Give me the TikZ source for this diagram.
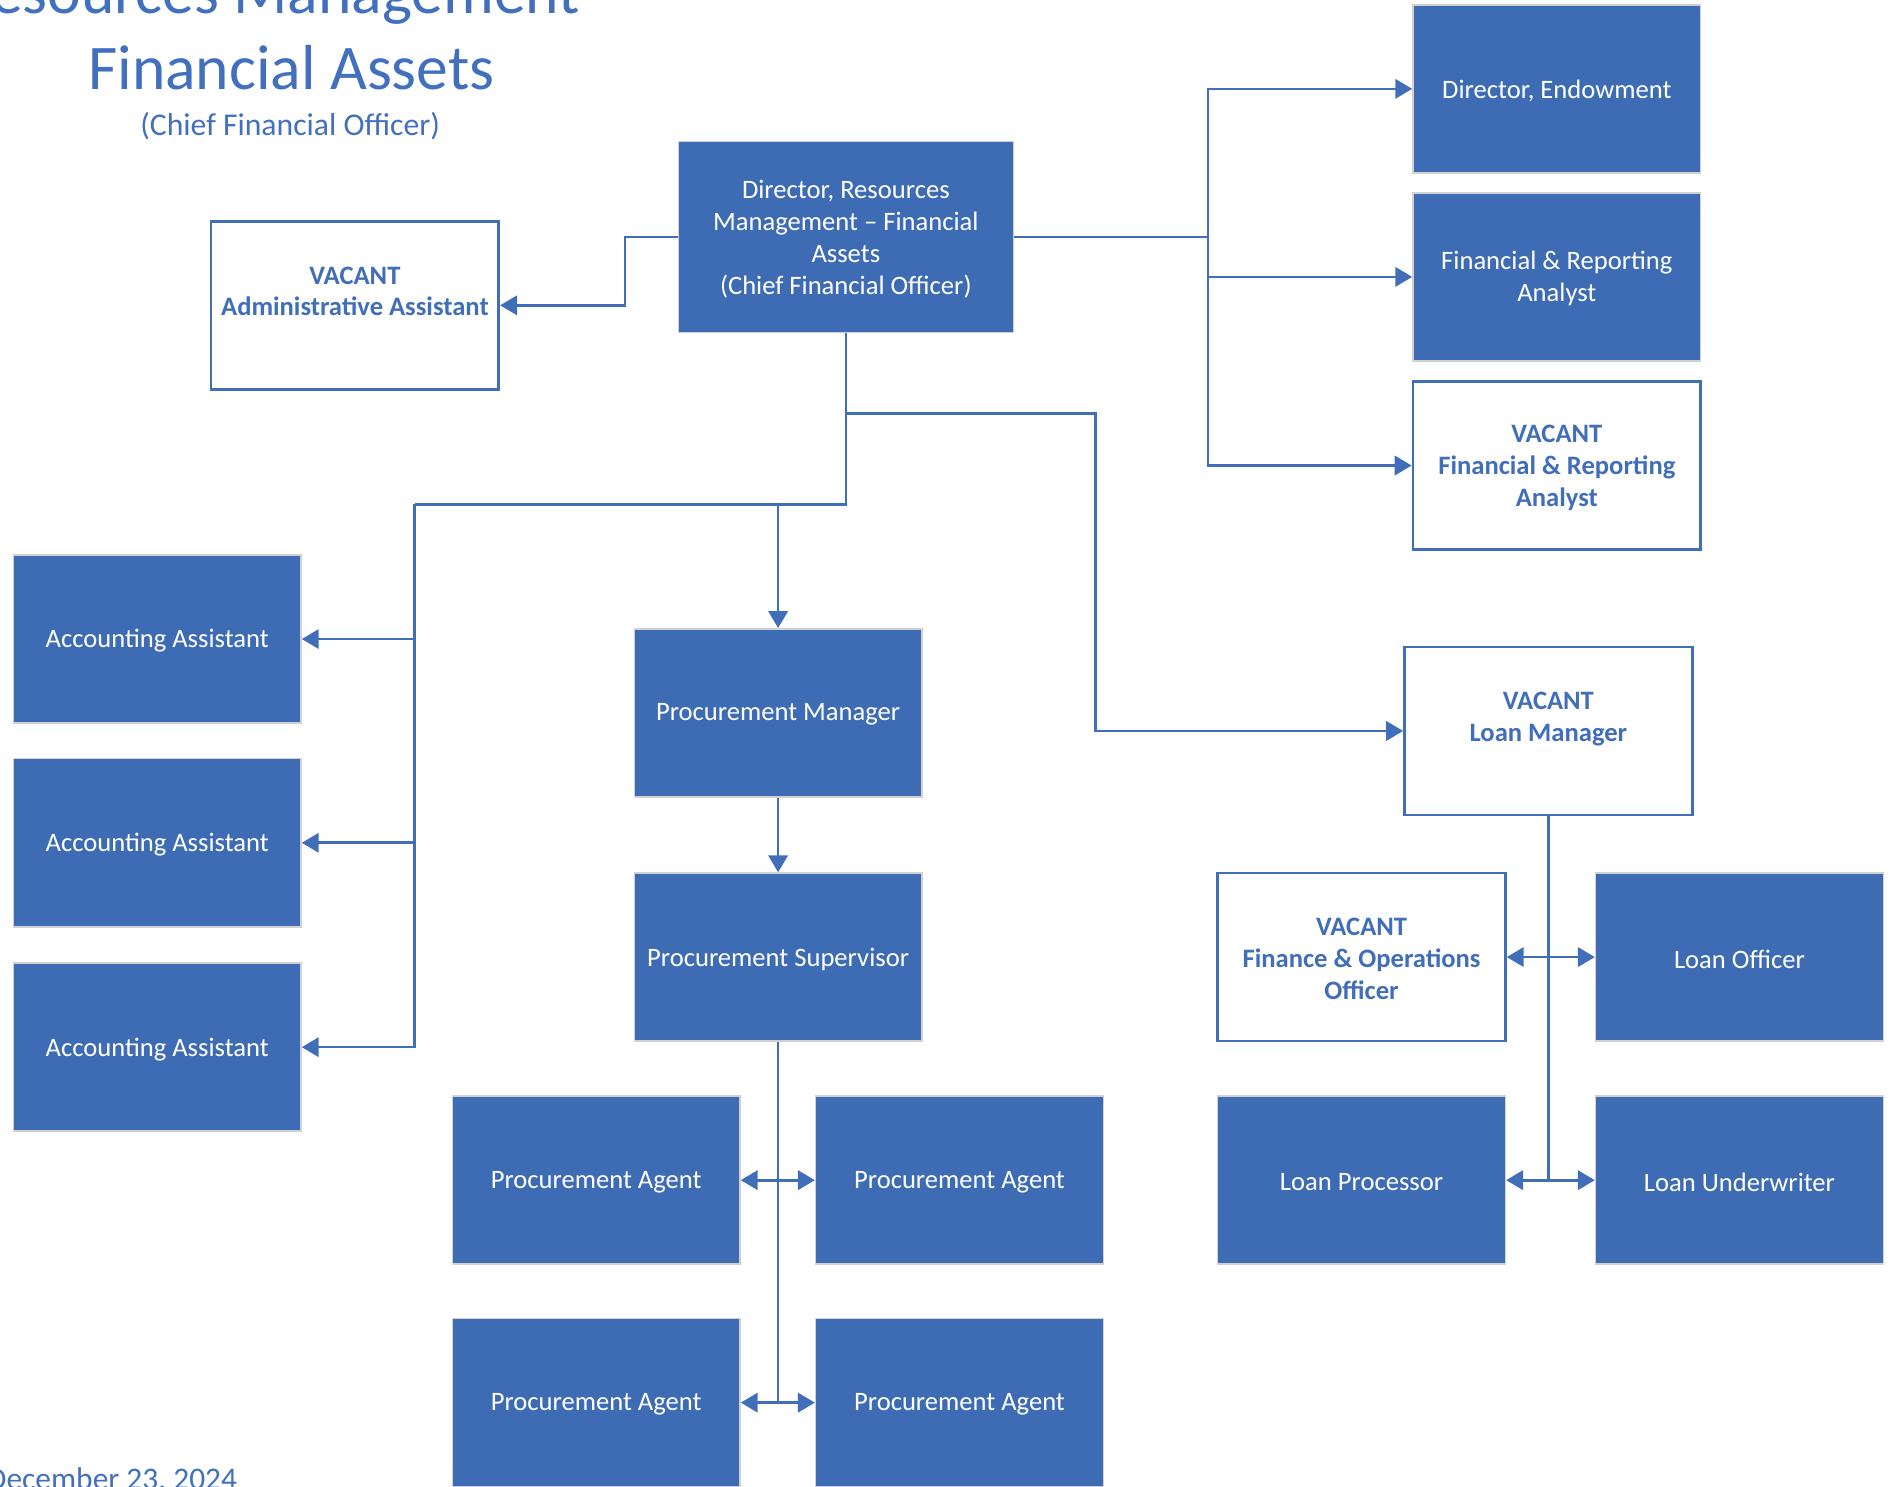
\documentclass[tikz,border=0pt]{standalone}
\usepackage{fontspec}
\setmainfont{Carlito}
\usetikzlibrary{arrows.meta}
\definecolor{boxblue}{RGB}{62,108,180}
\definecolor{lineblue}{RGB}{64,110,184}
\definecolor{titleblue}{RGB}{66,112,190}
% box (#2) of style #1 at #3, with its text #4 set slightly below the centre
\newcommand{\orgnode}[4]{%
  \node[#1] (#2) at #3 {};
  \node[#1 text] (#2-text) at ([yshift=-0.8pt]#2.center) {#4};}
\begin{document}
\begin{tikzpicture}[x=0.5pt,y=-0.5pt,
  filled/.style={rectangle, fill=boxblue, draw=black!18, line width=0.6pt,
    minimum width=119pt, minimum height=69.5pt, inner sep=0pt},
  filled text/.style={inner sep=0pt, text=white, align=center,
    font=\fontsize{11}{13.2}\selectfont},
  vacant/.style={filled, fill=white, draw=lineblue, line width=1.1pt},
  vacant text/.style={filled text, text=lineblue,
    font=\fontsize{11}{13.2}\selectfont\bfseries},
  cfobox/.style={filled, minimum width=138.5pt, minimum height=79pt},
  cfobox text/.style={filled text},
  link/.style={draw=lineblue, line width=1.1pt},
  arr/.style={link, -{Triangle[length=7pt,width=8pt]}},
  titletext/.style={text=titleblue, inner sep=0pt},
]
\useasboundingbox (0,0) rectangle (1568,1229);

% heading and date
\node[titletext, anchor=base east, font=\fontsize{26.3}{31}\selectfont] (t1) at (480,11) {Resources Management};
\node[titletext, anchor=base, font=\fontsize{26.3}{31}\selectfont] (t2) at (241,74) {Financial Assets};
\node[titletext, anchor=base, font=\fontsize{13.1}{16}\selectfont] (t3) at (240,112) {(Chief Financial Officer)};
\node[titletext, anchor=base west, font=\fontsize{13}{16}\selectfont] (date) at (-11,1232) {December 23, 2024};

% positions
\orgnode{cfobox}{cfo}{(699.5,196)}{Director, Resources\\Management -- Financial\\Assets\\(Chief Financial Officer)}
\orgnode{vacant}{admin}{(293.5,252.5)}{VACANT\\Administrative Assistant\\{}}

\orgnode{filled}{endow}{(1287.5,73.5)}{Director, Endowment}
\orgnode{filled}{fra}{(1287.5,229)}{Financial \& Reporting\\Analyst}
\orgnode{vacant}{vfra}{(1287.5,385)}{VACANT\\Financial \& Reporting\\Analyst}

\orgnode{filled}{acc1}{(130,528.5)}{Accounting Assistant}
\orgnode{filled}{acc2}{(130,697)}{Accounting Assistant}
\orgnode{filled}{acc3}{(130,866)}{Accounting Assistant}

\orgnode{filled}{pm}{(643.5,589.5)}{Procurement Manager}
\orgnode{filled}{ps}{(643.5,791.5)}{Procurement Supervisor}
\orgnode{filled}{pa1}{(493,976)}{Procurement Agent}
\orgnode{filled}{pa2}{(793.5,976)}{Procurement Agent}
\orgnode{filled}{pa3}{(493,1160)}{Procurement Agent}
\orgnode{filled}{pa4}{(793.5,1160)}{Procurement Agent}

\orgnode{vacant}{lm}{(1280.5,604.5)}{VACANT\\Loan Manager\\{}}
\orgnode{vacant}{fo}{(1126,791.5)}{VACANT\\Finance \& Operations\\Officer}
\orgnode{filled}{lo}{(1438.5,791.5)}{Loan Officer}
\orgnode{filled}{lp}{(1126,976)}{Loan Processor}
\orgnode{filled}{lu}{(1438.5,976)}{Loan Underwriter}

% junction points
\coordinate (adminbend) at (517,196);
\coordinate (rbus) at (999,196);
\coordinate (loanbranch) at (699.5,342);
\coordinate (loanbend) at (906,342);
\coordinate (mainbend) at (699.5,417);
\coordinate (accbus) at (343,417);
\coordinate (pmbranch) at (643.5,417);
\coordinate (pabus1) at (643.5,976);
\coordinate (pabus2) at (643.5,1160);
\coordinate (lbus1) at (1280.5,791.5);
\coordinate (lbus2) at (1280.5,976);

% connectors
\draw[arr] (cfo.west) -- (adminbend) |- (admin.east);

\draw[link] (cfo.east) -- (rbus);
\draw[arr] (rbus) |- (endow.west);
\draw[arr] (rbus) |- (fra.west);
\draw[arr] (rbus) |- (vfra.west);

\draw[link] (cfo.south) -- (mainbend) -- (accbus);
\draw[arr] (accbus) |- (acc1.east);
\draw[arr] (accbus) |- (acc2.east);
\draw[arr] (accbus) |- (acc3.east);
\draw[arr] (pmbranch) -- (pm.north);
\draw[arr] (loanbranch) -- (loanbend) |- (lm.west);

\draw[arr] (pm.south) -- (ps.north);
\draw[link] (ps.south) -- (pabus2);
\draw[arr] (pabus1) -- (pa1.east);
\draw[arr] (pabus1) -- (pa2.west);
\draw[arr] (pabus2) -- (pa3.east);
\draw[arr] (pabus2) -- (pa4.west);

\draw[link] (lm.south) -- (lbus2);
\draw[arr] (lbus1) -- (fo.east);
\draw[arr] (lbus1) -- (lo.west);
\draw[arr] (lbus2) -- (lp.east);
\draw[arr] (lbus2) -- (lu.west);
\end{tikzpicture}
\end{document}
